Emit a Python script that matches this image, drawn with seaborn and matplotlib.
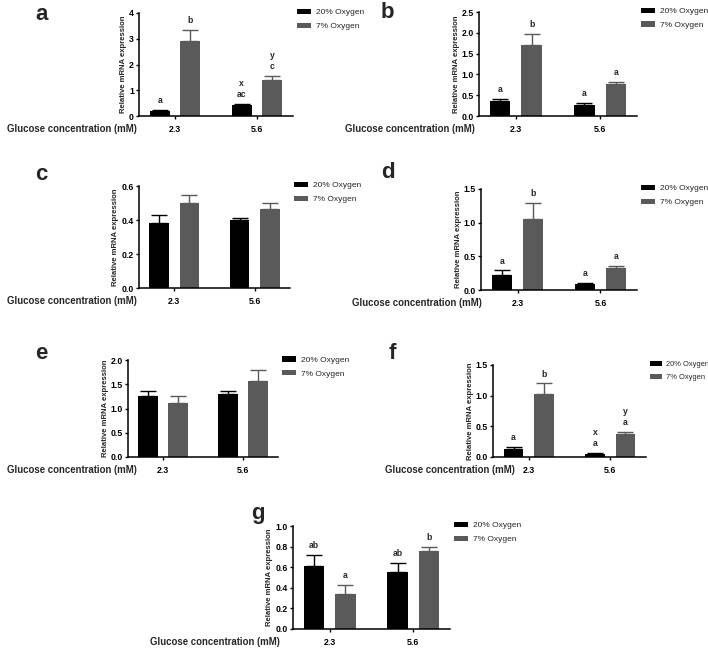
"""
plot.py
relative mRNA expression under 20% / 7% oxygen at two glucose levels
seven panels a-g, grouped bars with SEM-style upward error bars
"""

import seaborn as sns
import matplotlib.pyplot as plt
import pandas as pd
from matplotlib.ticker import FormatStrFormatter

# ---- data ----
glucose = ["2.3", "5.6"]
oxygen = ["20% Oxygen", "7% Oxygen"]

a_20 = [0.20, 0.42]
a_20_err = [0.05, 0.05]
a_7 = [2.90, 1.40]
a_7_err = [0.45, 0.15]
a_letters = ["a", "b", "x\nac", "y\nc"]

b_20 = [0.35, 0.26]
b_20_err = [0.07, 0.05]
b_7 = [1.70, 0.76]
b_7_err = [0.28, 0.06]
b_letters = ["a", "b", "a", "a"]

c_20 = [0.385, 0.40]
c_20_err = [0.045, 0.01]
c_7 = [0.50, 0.465]
c_7_err = [0.048, 0.035]
c_letters = ["", "", "", ""]

d_20 = [0.23, 0.09]
d_20_err = [0.06, 0.02]
d_7 = [1.05, 0.33]
d_7_err = [0.24, 0.03]
d_letters = ["a", "b", "a", "a"]

e_20 = [1.26, 1.30]
e_20_err = [0.10, 0.07]
e_7 = [1.12, 1.57]
e_7_err = [0.13, 0.22]
e_letters = ["", "", "", ""]

f_20 = [0.13, 0.05]
f_20_err = [0.03, 0.01]
f_7 = [1.03, 0.37]
f_7_err = [0.17, 0.04]
f_letters = ["a", "b", "x\na", "y\na"]

g_20 = [0.61, 0.55]
g_20_err = [0.11, 0.09]
g_7 = [0.34, 0.76]
g_7_err = [0.09, 0.04]
g_letters = ["ab", "a", "ab", "b"]

# y axis limits / tick step per panel
y_max = {"a": 4, "b": 2.5, "c": 0.6, "d": 1.5, "e": 2.0, "f": 1.5, "g": 1.0}
y_step = {"a": 1, "b": 0.5, "c": 0.2, "d": 0.5, "e": 0.5, "f": 0.5, "g": 0.2}

colors = ["#000000", "#5a5a5a"]

W, H = 708, 650

# axes boxes in pixels: left, right, top, bottom
boxes = {
    "a": (139, 293, 13, 116),
    "b": (479, 637, 12, 116),
    "c": (139, 290, 186, 288),
    "d": (481, 637, 189, 290),
    "e": (128, 278, 360, 457),
    "f": (493, 646, 365, 457),
    "g": (293, 450, 526, 629),
}
# panel letter positions (px), x-label left edge (px), legend font size
letter_pos = {"a": (35, 15), "b": (381, 13), "c": (35, 174), "d": (381, 172),
              "e": (35, 353), "f": (389, 353), "g": (251, 513)}
xlab_left = {"a": 7, "b": 345, "c": 7, "d": 352, "e": 7, "f": 385, "g": 150}
leg_size = {"a": 6.0, "b": 6.0, "c": 6.0, "d": 6.0, "e": 6.0, "f": 5.4, "g": 6.0}

panels = {
    "a": (a_20, a_20_err, a_7, a_7_err, a_letters),
    "b": (b_20, b_20_err, b_7, b_7_err, b_letters),
    "c": (c_20, c_20_err, c_7, c_7_err, c_letters),
    "d": (d_20, d_20_err, d_7, d_7_err, d_letters),
    "e": (e_20, e_20_err, e_7, e_7_err, e_letters),
    "f": (f_20, f_20_err, f_7, f_7_err, f_letters),
    "g": (g_20, g_20_err, g_7, g_7_err, g_letters),
}

sns.set_style("ticks")
plt.rcParams['font.family'] = ['Liberation Sans', 'DejaVu Sans']

fig = plt.figure(figsize=(W / 100, H / 100), dpi=100)


def draw_panel(key):
    v20, e20, v7, e7, letters = panels[key]
    l, r, t, b = boxes[key]
    ax = fig.add_axes([l / W, 1 - b / H, (r - l) / W, (b - t) / H])

    df = pd.DataFrame({
        "glucose": glucose * 2,
        "oxygen": [oxygen[0]] * 2 + [oxygen[1]] * 2,
        "value": v20 + v7,
    })
    sns.barplot(data=df, x="glucose", y="value", hue="oxygen", palette=colors,
                width=0.75, gap=0.35, linewidth=0, saturation=1, legend=False, ax=ax)
    bars = list(ax.containers)

    # upward error bars + significance letters
    errs = [e20, e7]
    for i, cont in enumerate(bars):
        for j, bar in enumerate(cont.patches):
            xc = bar.get_x() + bar.get_width() / 2
            h = bar.get_height()
            ax.errorbar(xc, h, yerr=[[0], [errs[i][j]]], fmt="none", ecolor=colors[i],
                        elinewidth=1.0, capsize=5.5, capthick=1.0)
            txt = letters[j * 2 + i]
            if txt:
                ax.annotate(txt, xy=(xc, h + errs[i][j]), xytext=(0, 3.5),
                            textcoords="offset points", ha="center", va="bottom",
                            fontsize=6.2, fontweight="bold", linespacing=1.35)

    ax.set_xlim(-0.44, 1.44)
    ax.set_ylim(0, y_max[key])
    n = int(round(y_max[key] / y_step[key]))
    ax.set_yticks([y_step[key] * i for i in range(n + 1)])
    if key == "a":
        ax.yaxis.set_major_formatter(FormatStrFormatter("%d"))
    else:
        ax.yaxis.set_major_formatter(FormatStrFormatter("%.1f"))

    sns.despine(ax=ax)
    for s in ["left", "bottom"]:
        ax.spines[s].set_linewidth(1.1)
        ax.spines[s].set_color("black")
    ax.tick_params(axis="both", labelsize=6.3, width=1.0, length=2.5, pad=1.2, colors="black")
    for lab in ax.get_xticklabels() + ax.get_yticklabels():
        lab.set_fontweight("bold")
    ax.tick_params(axis="x", pad=4)

    ax.set_xlabel("")
    ax.set_ylabel("Relative mRNA expression", fontsize=5.6, fontweight="bold", labelpad=1.5)

    ax.legend(bars, oxygen, loc="upper left", bbox_to_anchor=(0.995, 1.09),
              frameon=False, fontsize=leg_size[key], handlelength=1.6, handleheight=0.6,
              handletextpad=0.6, labelspacing=0.75, borderaxespad=0.2)

    # x-axis caption to the left, level with tick labels
    ly = b + 13
    fig.text(xlab_left[key] / W, 1 - ly / H, "Glucose concentration (mM)", fontsize=6.9,
             fontweight="bold", ha="left", va="center")

    lx, lyy = letter_pos[key]
    fig.text(lx / W, 1 - lyy / H, key, fontsize=16, fontweight="bold", ha="left", va="center")


for key in panels:
    draw_panel(key)

fig.savefig("out.png", dpi=100)
